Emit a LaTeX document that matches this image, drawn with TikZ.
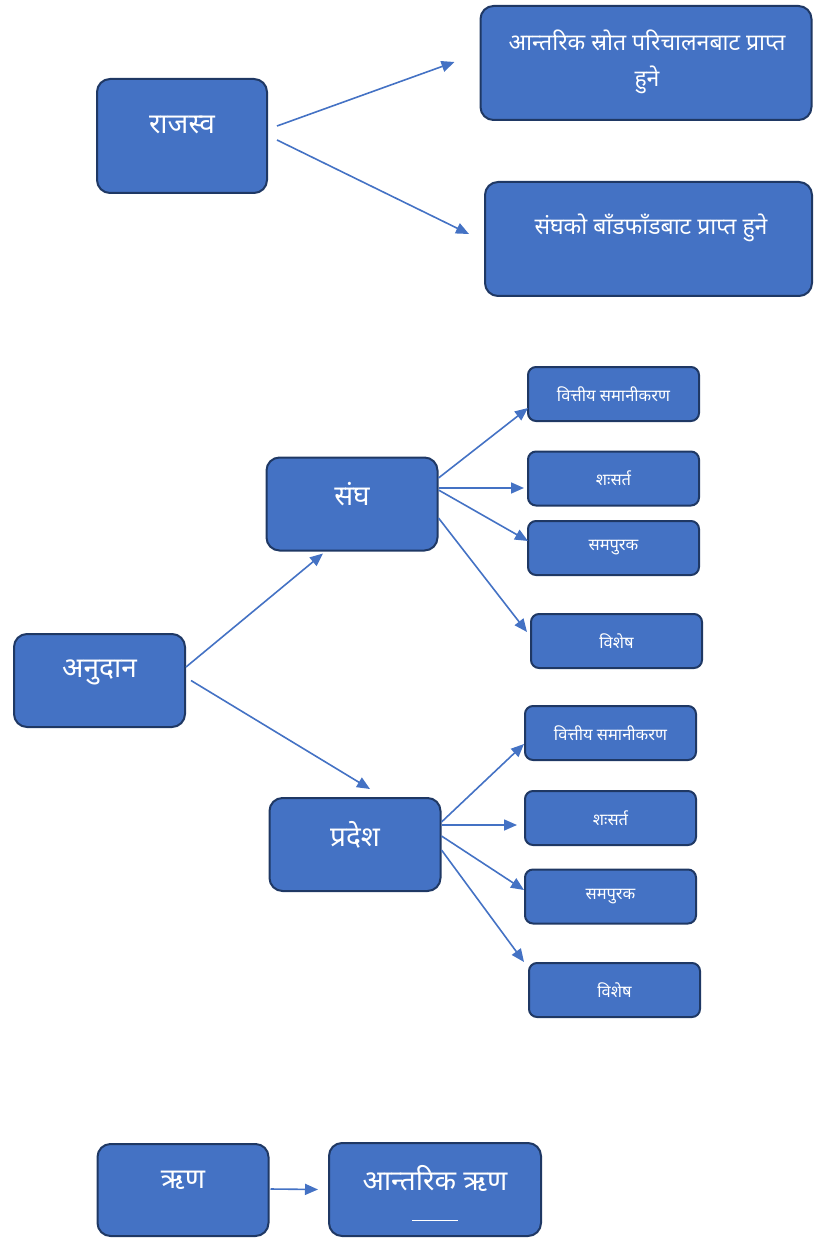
\documentclass[tikz,border=0pt]{standalone}
\usepackage{fontspec}
\newfontfamily\deva[Script=Devanagari]{Noto Sans}
\usetikzlibrary{arrows.meta}
\definecolor{boxblue}{HTML}{4472C4}
\definecolor{boxedge}{HTML}{1F3864}

\begin{document}
\begin{tikzpicture}[x=1pt,y=-1pt,
box/.style={draw=boxedge,line width=2pt,fill=boxblue,rounded corners=13pt,inner sep=0pt},
small/.style={box,rounded corners=8pt,minimum width=171pt,minimum height=54pt,text=white,font=\deva\fontsize{16.5}{18}\selectfont},
mid/.style={box,minimum width=171pt,minimum height=93pt},
txt/.style={text=white,font=\deva\fontsize{28}{32}\selectfont},
arr/.style={draw=boxblue,line width=1.6pt,-{Triangle[length=13pt,width=11pt]}}]
\useasboundingbox (0,0) rectangle (814,1238);

% rajasva
\node[box,minimum width=170pt,minimum height=114pt] (rajasva) at (182,136) {};
\node[txt] (rajasva-t) at (182,125) {राजस्व};
\node[box,minimum width=331pt,minimum height=114pt] (srot) at (646,63) {};
\node[txt,font=\deva\fontsize{23}{36}\selectfont,align=center] (srot-t) at (647,62) {आन्तरिक स्रोत परिचालनबाट प्राप्त\\हुने};
\node[box,minimum width=327pt,minimum height=114pt] (sanghko) at (648.5,239) {};
\node[txt,font=\deva\fontsize{23}{36}\selectfont] (sanghko-t) at (651,228) {संघको बाँडफाँडबाट प्राप्त हुने};
\draw[arr] ([shift={(9,-10)}]rajasva.east) -- ([shift={(-25,-1)}]srot.west);
\draw[arr] ([shift={(9,4)}]rajasva.east) -- ([shift={(-15,-5)}]sanghko.west);

% anudan
\node[mid] (anudan) at (99.5,680.5) {};
\node[txt] (anudan-t) at (99.5,672) {अनुदान};
\node[mid] (sangh) at (352,504) {};
\node[txt] (sangh-t) at (352,494) {संघ};
\node[mid] (pradesh) at (355,844.5) {};
\node[txt] (pradesh-t) at (355,835) {प्रदेश};
\draw[arr] ([shift={(0,-13.5)}]anudan.east) -- ([shift={(-29,2)}]sangh.south);
\draw[arr] ([shift={(5,0)}]anudan.east) -- ([shift={(15,-8)}]pradesh.north);

\node[small] (s1) at (613.5,394) {वित्तीय समानीकरण};
\node[small] (s2) at (613.5,478.5) {शःसर्त};
\node[small] (s3) at (613.5,548) {समपुरक};
\node[small] (s4) at (616.5,641) {विशेष};
\node[small] (p1) at (610.5,733) {वित्तीय समानीकरण};
\node[small] (p2) at (610.5,818) {शःसर्त};
\node[small] (p3) at (610.5,896.5) {समपुरक};
\node[small] (p4) at (614.5,990) {विशेष};

\foreach \n/\ay/\bx/\by in {s1/-26/1/14,s2/-16/-3/9.5,s3/-14/1/-7,s4/14/-3/-9}{
\draw[arr] ([yshift=-\ay]sangh.east) -- ([shift={(\bx,\by)}]\n.west);
}
\foreach \n/\ay/\bx/\by in {p1/-22.5/0/11,p2/-19.5/-7/7,p3/-8.5/0/-6.5,p4/5.5/-4/-28}{
\draw[arr] ([yshift=-\ay]pradesh.east) -- ([shift={(\bx,\by)}]\n.west);
}

% rin
\node[mid,minimum height=92pt] (rin) at (183,1190) {};
\node[txt] (rin-t) at (183,1180) {ऋण};
\node[mid,minimum width=212pt] (antrin) at (435,1189.5) {};
\node[txt,align=center] (antrin-t) at (435,1193) {आन्तरिक ऋण\\[-1pt]\rule{46pt}{1.5pt}};
\draw[arr] ([shift={(1,-1)}]rin.east) -- ([shift={(-10,0)}]antrin.west);
\end{tikzpicture}
\end{document}
